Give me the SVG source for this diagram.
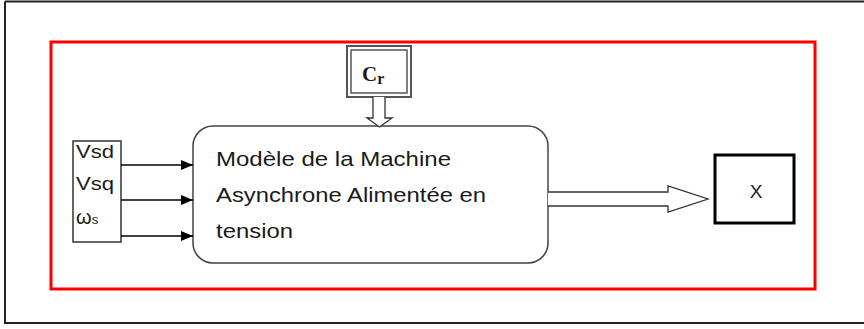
<svg xmlns="http://www.w3.org/2000/svg" width="864" height="329" viewBox="0 0 864 329">
<defs>
<style>
.lbl{font-family:"Liberation Sans",Arial,sans-serif;fill:#1a1a1a}
.conn{stroke:#000;stroke-width:1.5;fill:none}
.hollow{fill:#fff;stroke:#333;stroke-width:1.3}
</style>
<marker id="ah" markerWidth="12" markerHeight="10" refX="12" refY="5" orient="auto" markerUnits="userSpaceOnUse">
<path d="M0,0 L12,5 L0,10 Z" fill="#000"/>
</marker>
</defs>
<rect x="0" y="0" width="864" height="329" fill="#fff"/>
<g id="frame">
<path d="M5,1.5 H864 M5,1.5 V323 H864" stroke="#222" stroke-width="2" fill="none"/>
</g>
<g id="system">
<rect x="51" y="42" width="764" height="247" fill="none" stroke="#ff0000" stroke-width="3"/>
</g>
<g id="inputs">
<rect x="73" y="141" width="48" height="101" fill="#fff" stroke="#333" stroke-width="1.5"/>
<text class="lbl" x="76" y="158" font-size="19" textLength="38" lengthAdjust="spacingAndGlyphs">Vsd</text>
<text class="lbl" x="76" y="190" font-size="19" textLength="38" lengthAdjust="spacingAndGlyphs">Vsq</text>
<text class="lbl" x="76" y="224" font-size="20">ω<tspan font-size="13">s</tspan></text>
</g>
<g id="cr">
<rect x="347" y="46" width="64" height="51" fill="#fff" stroke="#555" stroke-width="2"/>
<rect x="351" y="50" width="56" height="43" fill="#fff" stroke="#555" stroke-width="1.5"/>
<text x="362" y="81" font-family="'Liberation Serif',serif" font-weight="bold" font-size="21" fill="#1a1a1a">C<tspan font-size="16" dy="3">r</tspan></text>
</g>
<g id="model">
<rect x="193" y="126" width="355" height="137" rx="20" ry="20" fill="#fff" stroke="#444" stroke-width="1.5"/>
<text class="lbl" x="216" y="166" font-size="21" textLength="235" lengthAdjust="spacingAndGlyphs">Modèle de la Machine</text>
<text class="lbl" x="216" y="202" font-size="21" textLength="270" lengthAdjust="spacingAndGlyphs">Asynchrone Alimentée en</text>
<text class="lbl" x="216" y="238" font-size="21" textLength="77" lengthAdjust="spacingAndGlyphs">tension</text>
</g>
<g id="output">
<rect x="715" y="155" width="79" height="68" fill="#fff" stroke="#000" stroke-width="3"/>
<text class="lbl" x="756" y="198" font-size="19" text-anchor="middle">X</text>
</g>
<g id="connectors">
<line class="conn" x1="121" y1="165" x2="193" y2="165" marker-end="url(#ah)"/>
<line class="conn" x1="121" y1="200" x2="193" y2="200" marker-end="url(#ah)"/>
<line class="conn" x1="121" y1="236" x2="193" y2="236" marker-end="url(#ah)"/>
<path class="hollow" d="M373,97 V118 H367 L379.5,127 L392,118 H385 V97"/>
<path class="hollow" d="M548,192 H668 V186 L708,199 L668,212 V206 H548"/>
</g>
</svg>
